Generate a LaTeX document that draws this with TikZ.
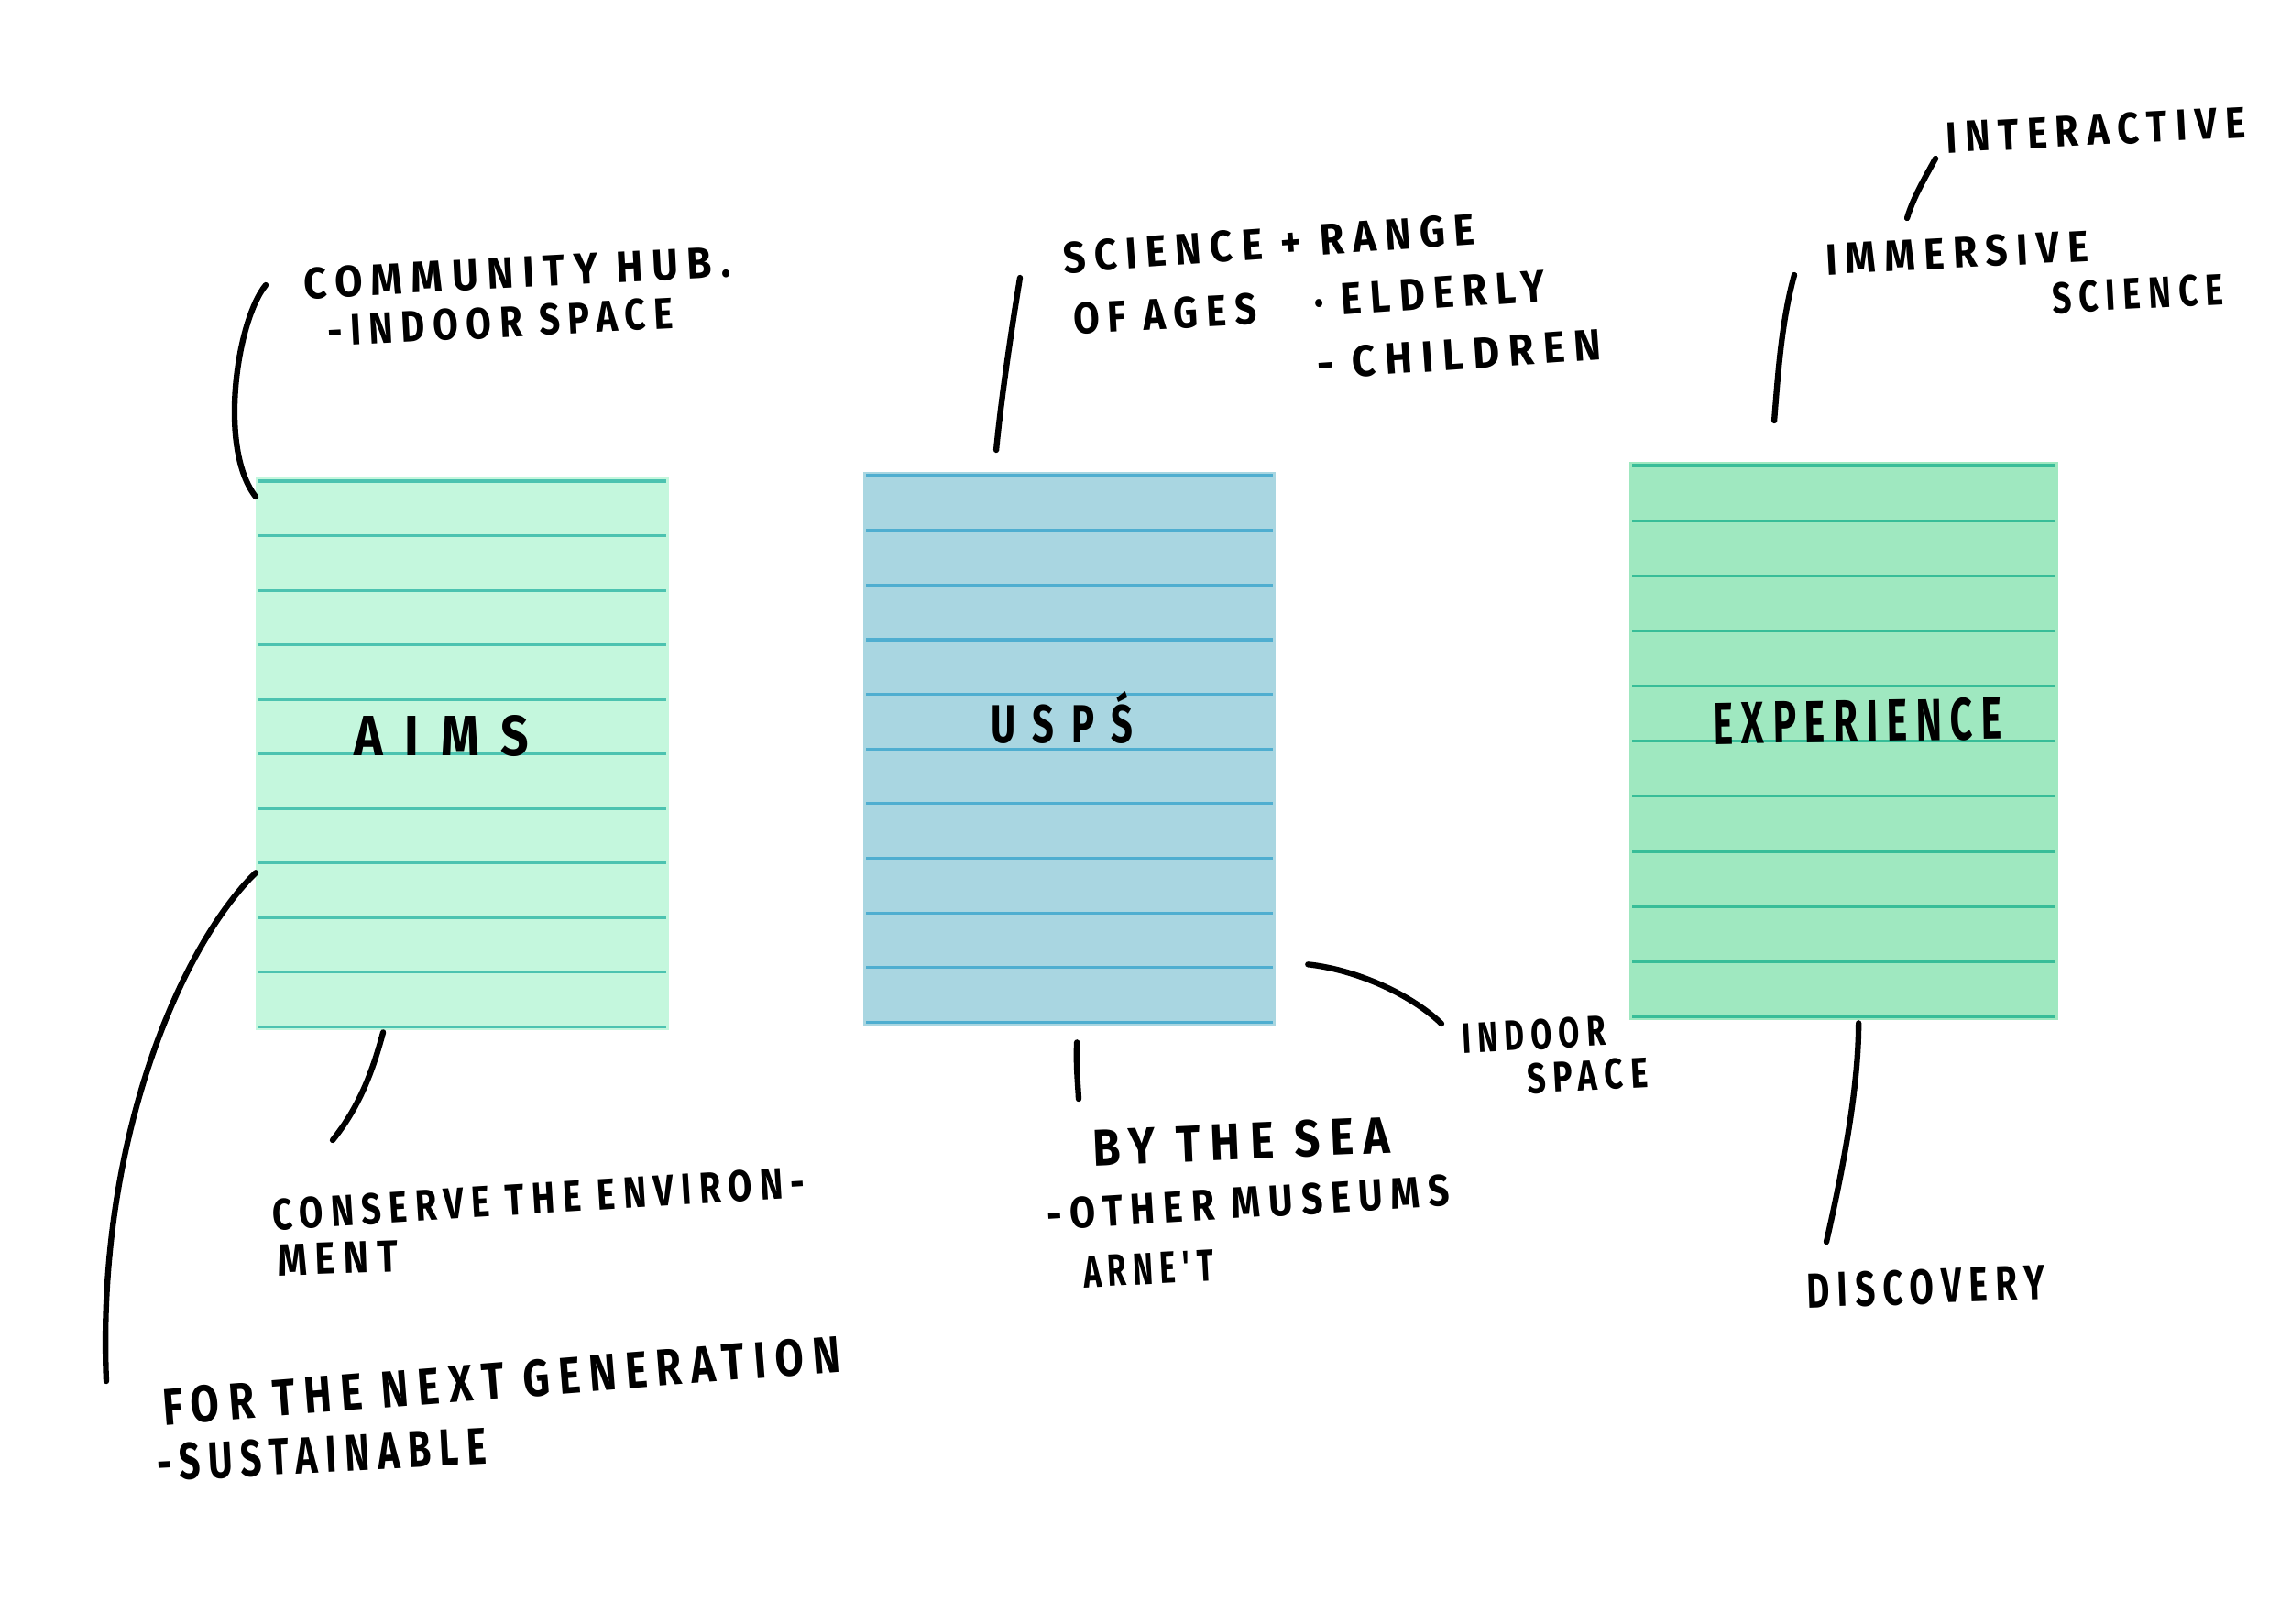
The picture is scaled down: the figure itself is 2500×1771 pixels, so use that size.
\documentclass[tikz,border=0pt]{standalone}
\usepackage{fontspec}
\usepackage{graphicx}
\newfontfamily\handfont[LetterSpace=22]{Fira Sans}
\newfontfamily\titlefont[LetterSpace=45]{Fira Sans}
\definecolor{aimsfill}{HTML}{C4F7DD}
\definecolor{aimsline}{HTML}{4CC3B0}
\definecolor{uspfill}{HTML}{A9D6E1}
\definecolor{uspline}{HTML}{4FAED0}
\definecolor{expfill}{HTML}{9FE8C0}
\definecolor{expline}{HTML}{38BD98}
\newcommand{\hw}[3][0.34cm]{\resizebox{#2}{#1}{\handfont\bfseries #3}}
\newcommand{\ttl}[3][0.44cm]{\resizebox{#2}{#1}{\titlefont\bfseries #3}}
\tikzset{
  card/.style={draw=none, inner sep=0pt, outer sep=0pt, anchor=north west},
  cardrule/.style={line width=0.9pt},
  txt/.style={anchor=base west, inner sep=0pt, outer sep=0pt, text=black},
  conn/.style={line width=1.8pt, line cap=round, black}
}
\begin{document}
\begin{tikzpicture}[x=0.01cm, y=-0.01cm]
\useasboundingbox (0,0) rectangle (2500,1771);
\fill[white] (0,0) rectangle (2500,1771);

% cards
\node[card, fill=aimsfill, minimum width=4.51cm, minimum height=6.03cm] (aims) at (279,521) {};
\node[card, fill=uspfill, minimum width=4.50cm, minimum height=6.04cm] (usps) at (942,515) {};
\node[card, fill=expfill, minimum width=4.68cm, minimum height=6.09cm] (exp) at (1778,504) {};

\foreach \c/\col/\sp in {aims/aimsline/0.595, usps/uspline/0.596, exp/expline/0.601}{
  \foreach \k in {0,...,10}{
    \draw[cardrule, \col] ([xshift=0.03cm, yshift={-0.04cm-\k*\sp cm}]\c.north west)
      -- ([xshift=-0.03cm, yshift={-0.04cm-\k*\sp cm}]\c.north east);
  }
}

% card titles
\node[txt] (aimsT) at (386,824) {\ttl{1.91cm}{AIMS}};
\node[txt] (uspsT) at (1081,810) {\ttl[0.56cm]{1.55cm}{USPŚ}};
\node[txt, rotate=1] (expT) at (1869,812) {\resizebox{3.16cm}{0.46cm}{\handfont\bfseries EXPERIENCE}};

% annotations
\node[txt, rotate=3] (hub1) at (332,326) {\hw{4.66cm}{COMMUNITY HUB.}};
\node[txt, rotate=3] (hub2) at (358,378) {\hw{3.78cm}{-INDOOR SPACE}};

\node[txt, rotate=4] (sci1) at (1161,298) {\hw{4.50cm}{SCIENCE + RANGE}};
\node[txt, rotate=3] (sci2) at (1172,364) {\hw{2.00cm}{OF AGES}};
\node[txt, rotate=4] (sci3) at (1435,346) {\hw{2.52cm}{· ELDERLY}};
\node[txt, rotate=4] (sci4) at (1438,414) {\hw{3.11cm}{- CHILDREN}};

\node[txt, rotate=3] (inter) at (2124,167) {\hw{3.27cm}{INTERACTIVE}};
\node[txt, rotate=3] (imm1) at (1993,300) {\hw{2.87cm}{IMMERSIVE}};
\node[txt, rotate=3] (imm2) at (2240,342) {\hw{1.87cm}{SCIENCE}};

\node[txt, rotate=3.5] (cons1) at (298,1342) {\hw{5.82cm}{CONSERVE THE ENVIRON-}};
\node[txt, rotate=2] (cons2) at (303,1392) {\hw{1.32cm}{MENT}};

\node[txt, rotate=4.5] (next1) at (179,1555) {\hw[0.40cm]{7.41cm}{FOR THE NEXT GENERATION}};
\node[txt, rotate=3] (next2) at (172,1616) {\hw[0.40cm]{3.60cm}{-SUSTAINABLE}};

\node[txt, rotate=2.5] (sea1) at (1193,1272) {\hw[0.40cm]{3.25cm}{BY THE SEA}};
\node[txt, rotate=3.5] (sea2) at (1143,1342) {\hw{4.40cm}{-OTHER MUSEUMS}};
\node[txt, rotate=3] (sea3) at (1183,1405) {\hw{1.42cm}{ARNE'T}};

\node[txt, rotate=3] (ind1) at (1596,1149) {\hw[0.33cm]{1.57cm}{INDOOR}};
\node[txt, rotate=3] (ind2) at (1667,1193) {\hw[0.33cm]{1.32cm}{SPACE}};

\node[txt, rotate=2] (disc) at (1972,1427) {\hw[0.38cm]{2.60cm}{DISCOVERY}};

% free ends of connectors
\coordinate (c1a) at (290,311);
\coordinate (c2b) at (116,1507);
\coordinate (c3b) at (363,1244);
\coordinate (c4a) at (1113,303);
\coordinate (c5b) at (1177,1199);
\coordinate (c6b) at (1573,1117);
\coordinate (c7a) at (1958,300);
\coordinate (c8a) at (2112,173);
\coordinate (c8b) at (2081,238);
\coordinate (c9b) at (1993,1355);

% connectors
\draw[conn] (c1a) .. controls (258,350) and (238,490) .. ([yshift=-0.21cm]aims.north west);
\draw[conn] ([yshift=-4.31cm]aims.north west) .. controls (195,1035) and (105,1250) .. (c2b);
\draw[conn] ([xshift=1.39cm, yshift=-0.02cm]aims.south west) .. controls (405,1175) and (390,1210) .. (c3b);
\draw[conn] (c4a) .. controls (1102,370) and (1092,440) .. ([xshift=1.45cm, yshift=0.24cm]usps.north west);
\draw[conn] ([xshift=2.33cm, yshift=-0.18cm]usps.south west) .. controls (1174,1160) and (1176,1180) .. (c5b);
\draw[conn] ([xshift=0.35cm, yshift=-5.37cm]usps.north east) .. controls (1480,1058) and (1540,1085) .. (c6b);
\draw[conn] (c7a) .. controls (1944,350) and (1940,410) .. ([xshift=1.58cm, yshift=0.45cm]exp.north west);
\draw[conn] (c8a) .. controls (2100,195) and (2088,215) .. (c8b);
\draw[conn] ([xshift=2.5cm, yshift=-0.03cm]exp.south west) .. controls (2028,1190) and (2010,1280) .. (c9b);
\end{tikzpicture}
\end{document}
